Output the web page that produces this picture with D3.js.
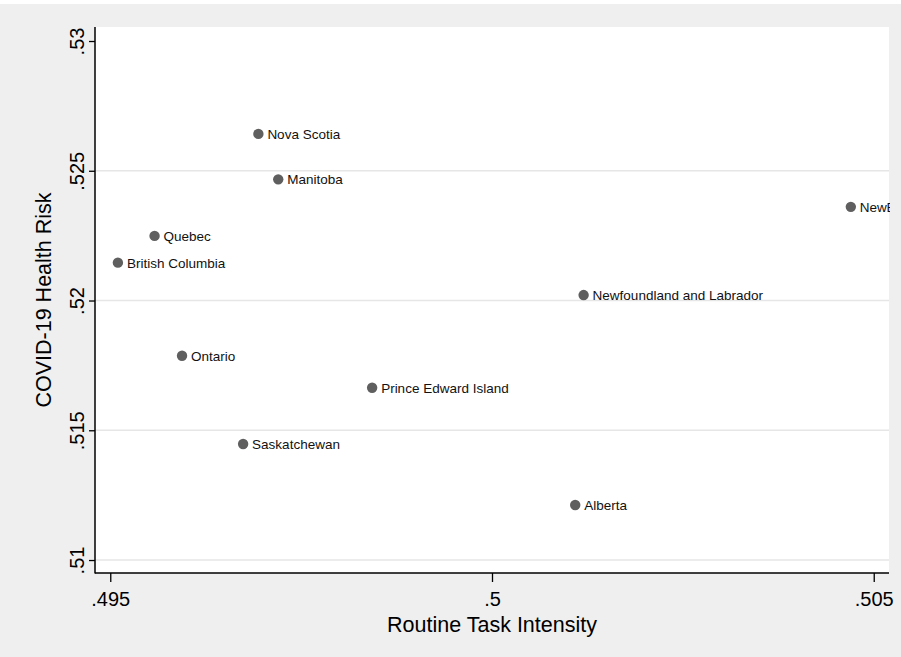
<!DOCTYPE html>
<html><head><meta charset="utf-8">
<script src="https://cdn.jsdelivr.net/npm/d3@7"></script>
<style>body{margin:0;background:#fff}svg{display:block}text{font-family:"Liberation Sans",Arial,Helvetica,sans-serif}</style>
</head><body><div id="chart"></div>
<script>
const provinces = ["Nova Scotia","Manitoba","New Brunswick","Quebec","British Columbia","Newfoundland and Labrador","Ontario","Prince Edward Island","Saskatchewan","Alberta"];
const routineTask = [0.49694,0.49720,0.50470,0.49558,0.49510,0.50120,0.49594,0.49843,0.49674,0.50109];
const healthRisk = [0.52642,0.52467,0.52361,0.52249,0.52146,0.52021,0.51787,0.51664,0.51447,0.51212];
const xTicks = [0.495,0.5,0.505];
const xTickLabels = [".495",".5",".505"];
const yTicks = [0.51,0.515,0.52,0.525,0.53];
const yTickLabels = [".51",".515",".52",".525",".53"];
const yGrid = [0.51,0.515,0.52,0.525];

const W=901,H=657;
const L=95,R=889,T=27,B=573;
const svg=d3.select("#chart").append("svg").attr("width",W).attr("height",H);
svg.append("rect").attr("width",W).attr("height",H).attr("fill","#fff");
svg.append("rect").attr("x",0).attr("y",4).attr("width",W).attr("height",H-4).attr("fill","#efefef");
svg.append("rect").attr("x",L).attr("y",T).attr("width",R-L).attr("height",B-T).attr("fill","#fff");

const x=d3.scaleLinear().domain([0.4948,0.5052]).range([L,R]);
const y=d3.scaleLinear().domain([0.5095,0.53054]).range([B,T]);

// gridlines
svg.append("g").selectAll("line").data(yGrid).join("line")
  .attr("x1",L).attr("x2",R).attr("y1",d=>y(d)).attr("y2",d=>y(d))
  .attr("stroke","#e6e6e6").attr("stroke-width",1.5);

// axes
const yAxis=svg.append("g").attr("transform",`translate(${L},0)`)
  .call(d3.axisLeft(y).tickValues(yTicks).tickFormat((d,i)=>yTickLabels[i]).tickSize(6).tickSizeOuter(0));
yAxis.select(".domain").remove();
yAxis.selectAll(".tick line").attr("stroke","#000").attr("stroke-width",1.3);
yAxis.selectAll(".tick text").attr("font-size",20).attr("fill","#000")
  .attr("text-anchor","middle").attr("dy",null).attr("x",null)
  .attr("transform","translate(-11,0) rotate(-90)");

const xAxis=svg.append("g").attr("transform",`translate(0,${B})`)
  .call(d3.axisBottom(x).tickValues(xTicks).tickFormat((d,i)=>xTickLabels[i]).tickSize(9).tickSizeOuter(0));
xAxis.select(".domain").remove();
xAxis.selectAll(".tick line").attr("stroke","#000").attr("stroke-width",1.3);
xAxis.selectAll(".tick text").attr("font-size",20).attr("fill","#000").attr("dy",null).attr("y",33);

svg.append("line").attr("x1",L).attr("x2",L).attr("y1",T).attr("y2",B+0.5).attr("stroke","#000").attr("stroke-width",1.5);
svg.append("line").attr("x1",L).attr("x2",R).attr("y1",B).attr("y2",B).attr("stroke","#000").attr("stroke-width",1.5);

// clip
svg.append("clipPath").attr("id","plotclip").append("rect").attr("x",L).attr("y",T).attr("width",R-L+1).attr("height",B-T);
const pts=svg.append("g").attr("clip-path","url(#plotclip)");
const data=provinces.map((p,i)=>({p,x:routineTask[i],y:healthRisk[i]}));
pts.selectAll("circle").data(data).join("circle")
  .attr("cx",d=>x(d.x)).attr("cy",d=>y(d.y)).attr("r",5.2).attr("fill","#5f5f5f");
pts.selectAll("text").data(data).join("text")
  .attr("x",d=>x(d.x)+9).attr("y",d=>y(d.y)+5).attr("font-size",13.5).attr("fill","#111")
  .attr("word-spacing",d=>x(d.x)>R-60?-4:0).text(d=>d.p);

// titles
svg.append("text").attr("x",(x(0.495)+x(0.505))/2).attr("y",632).attr("text-anchor","middle")
  .attr("font-size",21.5).attr("fill","#000").text("Routine Task Intensity");
svg.append("text").attr("transform","translate(51,300) rotate(-90)").attr("text-anchor","middle")
  .attr("font-size",21.5).attr("fill","#000").text("COVID-19 Health Risk");
</script></body></html>
